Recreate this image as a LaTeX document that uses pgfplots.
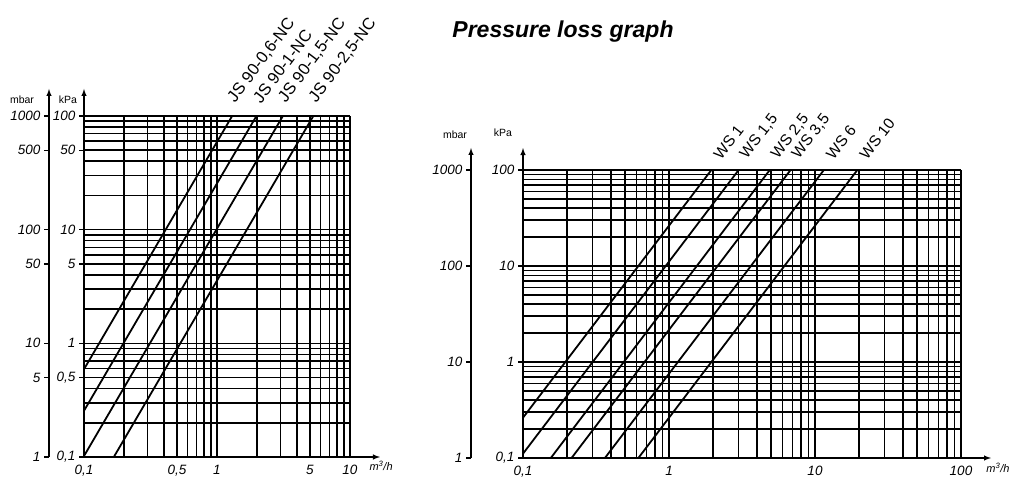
\documentclass[border=0pt]{standalone}
\usepackage{pgfplots}
\pgfplotsset{compat=1.18}
\usepackage{fontspec}
\setmainfont{Liberation Sans}
\begin{document}
\begin{tikzpicture}
\useasboundingbox (0pt,0pt) rectangle (1014pt,482pt);

\node[font=\fontsize{23}{23}\selectfont\bfseries\itshape] at (563pt,450pt) {Pressure loss graph};

% ---------------- left chart: mbar scale ----------------
\begin{axis}[at={(49pt,25pt)}, anchor=south west, scale only axis, width=1pt, height=341pt,
  ymode=log, xmin=0, xmax=1, ymin=1, ymax=1000,
  axis y line=left, axis x line=none,
  y axis line style={-latex, line width=1.4pt, shorten >=-27pt},
  tick align=outside, major tick length=5pt, minor tick length=0pt,
  ytick style={black, line width=1.4pt},
  ticklabel style={font=\fontsize{13.5}{14}\selectfont\itshape},
  ytick={1,5,10,50,100,500,1000}, yticklabels={1,5,10,50,100,500,1000}]
\addplot[draw=none] coordinates {(0,1) (1,1000)};
\end{axis}

% ---------------- left chart ----------------
\begin{axis}[at={(84pt,25pt)}, anchor=south west, scale only axis, width=266pt, height=341pt,
  xmode=log, ymode=log, clip mode=individual,
  xmin=0.1, xmax=10, ymin=0.1, ymax=100,
  axis lines=left,
  axis line style={line width=1.4pt, black},
  x axis line style={-latex, shorten >=-30pt},
  y axis line style={-latex, shorten >=-27pt},
  xmajorgrids, ymajorgrids, xminorgrids, yminorgrids,
  major grid style={black, line width=1.5pt},
  minor grid style={black, line width=1.5pt},
  tick align=outside, major tick length=5pt, minor tick length=0pt,
  xtick style={draw=none}, ytick style={black, line width=1.4pt},
  ticklabel style={font=\fontsize{13.5}{14}\selectfont\itshape},
  xtick={0.1,0.5,1,5,10}, xticklabels={{0,1},{0,5},{1},{5},{10}},
  minor xtick={0.2,0.3,0.4,0.5,0.6,0.7,0.8,0.9,2,3,4,5,6,7,8,9},
  ytick={0.1,0.5,1,5,10,50,100}, yticklabels={{0,1},{0,5},{1},{5},{10},{50},{100}},
  minor ytick={0.2,0.3,0.4,0.5,0.6,0.7,0.8,0.9,2,3,4,5,6,7,8,9,20,30,40,50,60,70,80,90},
]
\addplot[black, line width=1.8pt, no markers] coordinates {(0.1,0.592) (1.3,100)};
\addplot[black, line width=1.8pt, no markers] coordinates {(0.1,0.2551) (1.98,100)};
\addplot[black, line width=1.8pt, no markers] coordinates {(0.1,0.102) (3.13,100)};
\addplot[black, line width=1.8pt, no markers] coordinates {(0.1676,0.1) (5.3,100)};
\node[anchor=south west, font=\fontsize{16.5}{16.5}\selectfont, inner sep=1pt, rotate=53] at ([xshift=5pt,yshift=10pt]axis cs:1.3,100) {JS 90-0,6-NC};
\node[anchor=south west, font=\fontsize{16.5}{16.5}\selectfont, inner sep=1pt, rotate=53] at ([xshift=5pt,yshift=10pt]axis cs:1.98,100) {JS 90-1-NC};
\node[anchor=south west, font=\fontsize{16.5}{16.5}\selectfont, inner sep=1pt, rotate=53] at ([xshift=5pt,yshift=10pt]axis cs:3.13,100) {JS 90-1,5-NC};
\node[anchor=south west, font=\fontsize{16.5}{16.5}\selectfont, inner sep=1pt, rotate=53] at ([xshift=5pt,yshift=10pt]axis cs:5.3,100) {JS 90-2,5-NC};
\end{axis}

\node[font=\fontsize{10.5}{10.5}\selectfont] at (22pt,382pt) {mbar};
\node[font=\fontsize{10.5}{10.5}\selectfont] at (68pt,382pt) {kPa};
\node[font=\fontsize{11}{11}\selectfont\itshape, anchor=west] at (366pt,16pt) {m\textsuperscript{3}/h};

% ---------------- right chart: mbar scale ----------------
\begin{axis}[at={(471pt,24pt)}, anchor=south west, scale only axis, width=1pt, height=288pt,
  ymode=log, xmin=0, xmax=1, ymin=1, ymax=1000,
  axis y line=left, axis x line=none,
  y axis line style={-latex, line width=1.4pt, shorten >=-22pt},
  tick align=outside, major tick length=5pt, minor tick length=0pt,
  ytick style={black, line width=1.4pt},
  ticklabel style={font=\fontsize{13.5}{14}\selectfont\itshape},
  ytick={1,10,100,1000}, yticklabels={1,10,100,1000}]
\addplot[draw=none] coordinates {(0,1) (1,1000)};
\end{axis}

% ---------------- right chart ----------------
\begin{axis}[at={(523pt,24pt)}, anchor=south west, scale only axis, width=438pt, height=288pt,
  xmode=log, ymode=log, clip mode=individual,
  xmin=0.1, xmax=100, ymin=0.1, ymax=100,
  axis lines=left,
  axis line style={line width=1.4pt, black},
  x axis line style={-latex, shorten >=-30pt},
  y axis line style={-latex, shorten >=-22pt},
  xmajorgrids, ymajorgrids, xminorgrids, yminorgrids,
  major grid style={black, line width=1.5pt},
  minor grid style={black, line width=1.5pt},
  tick align=outside, major tick length=5pt, minor tick length=0pt,
  xtick style={draw=none}, ytick style={black, line width=1.4pt},
  ticklabel style={font=\fontsize{13.5}{14}\selectfont\itshape},
  xtick={0.1,1,10,100}, xticklabels={{0,1},{1},{10},{100}},
  minor xtick={0.2,0.3,0.4,0.5,0.6,0.7,0.8,0.9,2,3,4,5,6,7,8,9,20,30,40,50,60,70,80,90},
  ytick={0.1,1,10,100}, yticklabels={{0,1},{1},{10},{100}},
  minor ytick={0.2,0.3,0.4,0.5,0.6,0.7,0.8,0.9,2,3,4,5,6,7,8,9,20,30,40,50,60,70,80,90},
]
\addplot[black, line width=1.8pt, no markers] coordinates {(0.1,0.263) (1.95,100)};
\addplot[black, line width=1.8pt, no markers] coordinates {(0.1,0.111) (3.0,100)};
\addplot[black, line width=1.8pt, no markers] coordinates {(0.155,0.1) (4.9,100)};
\addplot[black, line width=1.8pt, no markers] coordinates {(0.215,0.1) (6.8,100)};
\addplot[black, line width=1.8pt, no markers] coordinates {(0.364,0.1) (11.5,100)};
\addplot[black, line width=1.8pt, no markers] coordinates {(0.617,0.1) (19.5,100)};
\node[anchor=south west, font=\fontsize{15.5}{15.5}\selectfont, inner sep=1pt, rotate=52] at ([xshift=10pt,yshift=8pt]axis cs:1.95,100) {WS 1};
\node[anchor=south west, font=\fontsize{15.5}{15.5}\selectfont, inner sep=1pt, rotate=52] at ([xshift=10pt,yshift=8pt]axis cs:3.0,100) {WS 1,5};
\node[anchor=south west, font=\fontsize{15.5}{15.5}\selectfont, inner sep=1pt, rotate=52] at ([xshift=10pt,yshift=8pt]axis cs:4.9,100) {WS 2,5};
\node[anchor=south west, font=\fontsize{15.5}{15.5}\selectfont, inner sep=1pt, rotate=52] at ([xshift=10pt,yshift=8pt]axis cs:6.8,100) {WS 3,5};
\node[anchor=south west, font=\fontsize{15.5}{15.5}\selectfont, inner sep=1pt, rotate=52] at ([xshift=10pt,yshift=8pt]axis cs:11.5,100) {WS 6};
\node[anchor=south west, font=\fontsize{15.5}{15.5}\selectfont, inner sep=1pt, rotate=52] at ([xshift=10pt,yshift=8pt]axis cs:19.5,100) {WS 10};
\end{axis}

\node[font=\fontsize{10.5}{10.5}\selectfont] at (455pt,347pt) {mbar};
\node[font=\fontsize{10.5}{10.5}\selectfont] at (503pt,349pt) {kPa};
\node[font=\fontsize{11}{11}\selectfont\itshape, anchor=east] at (1013pt,14pt) {m\textsuperscript{3}/h};
\end{tikzpicture}
\end{document}
